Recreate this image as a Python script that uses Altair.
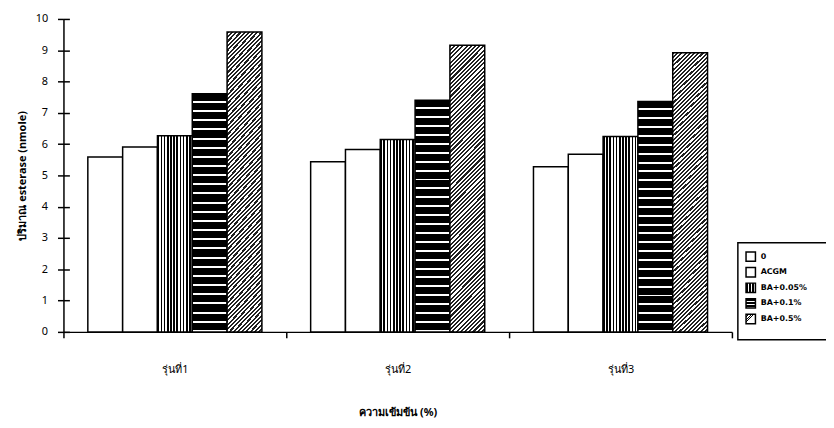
import altair as alt
import pandas as pd

groups = ["รุ่นที่1", "รุ่นที่2", "รุ่นที่3"]
series = ["0", "ACGM", "BA+0.05%", "BA+0.1%", "BA+0.5%"]
values = {
    "0":        [5.59, 5.44, 5.28],
    "ACGM":     [5.91, 5.83, 5.68],
    "BA+0.05%": [6.27, 6.15, 6.24],
    "BA+0.1%":  [7.61, 7.40, 7.36],
    "BA+0.5%":  [9.58, 9.16, 8.92],
}
y_ticks = list(range(0, 11))

rows = []
for s in series:
    for g, v in zip(groups, values[s]):
        rows.append({"group": g, "series": s, "value": v})
df = pd.DataFrame(rows)
leg_df = pd.DataFrame({"series": series})
tick_df = pd.DataFrame({"tick": y_ticks})

FONT = "Noto Sans"


def stripes(n, dark_frac, x2, y2, dark="black", light="white"):
    stops = []
    for i in range(n):
        a = i / n
        b = (i + dark_frac) / n
        c = (i + 1) / n
        stops += [
            alt.GradientStop(offset=a, color=dark),
            alt.GradientStop(offset=b, color=dark),
            alt.GradientStop(offset=b, color=light),
            alt.GradientStop(offset=min(c, 1.0), color=light),
        ]
    return alt.Gradient(gradient="linear", stops=stops, x1=0, y1=0, x2=x2, y2=y2)


k = 8.2
dx = (1 + k) / (1 + k * k)
fills = {
    "0": "white",
    "ACGM": "white",
    "BA+0.05%": stripes(11, 0.5, 1, 0),
    "BA+0.1%": stripes(26, 0.78, 0, 1),
    "BA+0.5%": stripes(76, 0.5, dx, k * dx, dark="#222222"),
}
leg_fills = dict(fills)
leg_fills["BA+0.1%"] = stripes(3, 0.7, 0, 1)
leg_fills["BA+0.05%"] = stripes(3, 0.5, 1, 0)
leg_fills["BA+0.5%"] = stripes(4, 0.5, 0.5, 0.5)

x_enc = alt.X(
    "group:N",
    sort=groups,
    scale=alt.Scale(domain=groups, paddingInner=0, paddingOuter=0),
    axis=alt.Axis(
        title="ความเข้มข้น (%)",
        labelAngle=0,
        tickBand="extent",
        tickSize=6,
        tickColor="black",
        tickWidth=1.5,
        domainColor="black",
        domainWidth=1.5,
        labelPadding=26,
        labelFontSize=11,
        labelFont=FONT,
        labelColor="black",
        titleFont=FONT,
        titleFontSize=11,
        titleFontWeight="bold",
        titleColor="black",
        titlePadding=32,
    ),
)
xoff_enc = alt.XOffset(
    "series:N",
    sort=series,
    scale=alt.Scale(domain=series, paddingInner=0, paddingOuter=0.7),
)
y_axis = alt.Axis(
    title="ปริมาณ esterase (nmole)",
    values=y_ticks,
    ticks=True,
    tickSize=6,
    tickColor="black",
    tickWidth=1.5,
    grid=False,
    domainColor="black",
    domainWidth=1.5,
    labelPadding=10,
    labelFontSize=11,
    labelFont=FONT,
    labelColor="black",
    titleFont=FONT,
    titleFontSize=11,
    titleFontWeight="bold",
    titleColor="black",
    titlePadding=8,
)
y_scale = alt.Scale(domain=[0, 10], nice=False)
y_enc = alt.Y("value:Q", scale=y_scale, axis=y_axis)

bar_layers = []
for s in series:
    bar_layers.append(
        alt.Chart(df)
        .transform_filter(alt.datum.series == s)
        .mark_bar(fill=fills[s], stroke="black", strokeWidth=1.5)
        .encode(x=x_enc, xOffset=xoff_enc, y=y_enc)
    )
plot = alt.layer(*bar_layers)

# inner half of the crossing y ticks: second axis shifted into the plot
inner_ticks = (
    alt.Chart(tick_df)
    .mark_point(opacity=0)
    .encode(
        x=alt.value(0),
        y=alt.Y(
            "tick:Q",
            scale=y_scale,
            axis=alt.Axis(
                orient="left", offset=-6, values=y_ticks, labels=False, domain=False,
                ticks=True, tickSize=6, tickColor="black", tickWidth=1.5,
                grid=False, title=None,
            ),
        ),
    )
)

# legend
box = (
    alt.Chart(pd.DataFrame({"a": [0]}))
    .mark_rect(fill="white", stroke="black", strokeWidth=1.5)
    .encode(x=alt.value(681), x2=alt.value(790), y=alt.value(226), y2=alt.value(324))
)
leg_y = alt.Y(
    "series:N",
    sort=series,
    scale=alt.Scale(type="point", domain=series, range=[240, 303], padding=0),
    axis=None,
)
leg_layers = [box]
for s in series:
    leg_layers.append(
        alt.Chart(leg_df)
        .transform_filter(alt.datum.series == s)
        .mark_square(size=90, fill=leg_fills[s], stroke="black", strokeWidth=1.5, opacity=1)
        .encode(x=alt.value(694), y=leg_y)
    )
leg_layers.append(
    alt.Chart(leg_df)
    .mark_text(align="left", baseline="middle", font="DejaVu Sans", fontSize=8, fontWeight="bold", color="black")
    .encode(x=alt.value(704), y=leg_y, text="series:N")
)
legend = alt.layer(*leg_layers)

chart = (
    alt.layer(plot, inner_ticks, legend)
    .resolve_scale(y="independent")
    .properties(
        width=675,
        height=316,
        padding={"left": 56, "top": 9, "right": 95, "bottom": 95},
        autosize=alt.AutoSizeParams(type="none"),
        background="white",
    )
    .configure_view(stroke=None)
)

chart.save("out.html", embed_options={"renderer": "svg", "actions": False})
